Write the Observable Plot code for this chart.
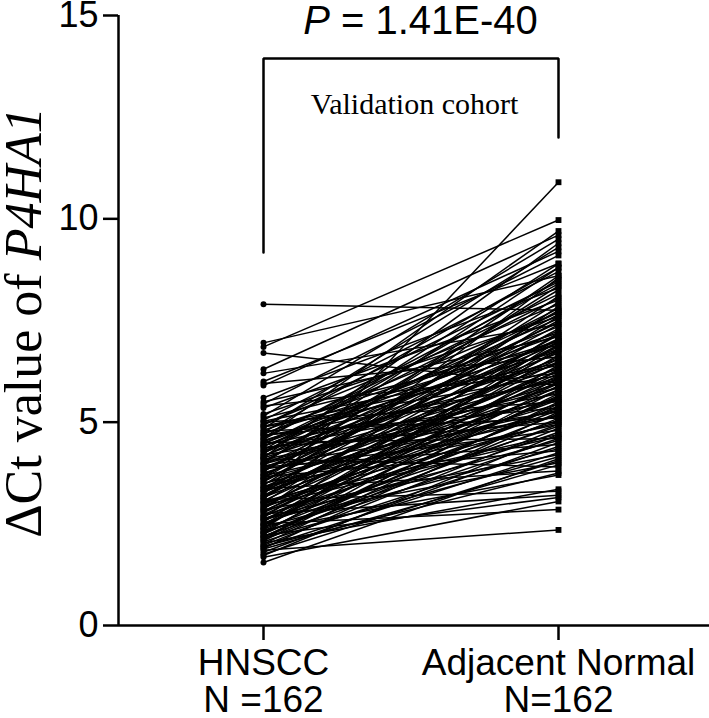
<!DOCTYPE html>
<html>
<head>
<meta charset="utf-8">
<script src="https://cdn.jsdelivr.net/npm/d3@7"></script>
<script src="https://cdn.jsdelivr.net/npm/@observablehq/plot@0.6"></script>
<style>
  html, body { margin: 0; padding: 0; background: white; }
</style>
</head>
<body>
<div id="chart"></div>
<script>
const categories = ["HNSCC", "Adjacent Normal"];
const xTickLabels = ["HNSCC\nN =162", "Adjacent Normal\nN=162"];
const yTicks = [0, 5, 10, 15];
const titleText = "P = 1.41E-40";
const cohortText = "Validation cohort";
const yLabelText = "\u0394Ct value of P4HA1";

// ΔCt values, paired by index (tumour vs adjacent normal)
const hnscc = [
  7.9, 6.95, 6.85, 6.7, 6.3, 6.2, 6.0, 5.95, 5.9, 5.6,
  5.5, 5.45, 5.4, 5.35, 5.2, 5.15, 5.1, 5.05, 5.0, 4.95,
  4.93, 4.9, 4.85, 4.8, 4.78, 4.75, 4.7, 4.66, 4.62, 4.6,
  4.55, 4.52, 4.5, 4.46, 4.42, 4.4, 4.35, 4.32, 4.3, 4.25,
  4.22, 4.2, 4.15, 4.12, 4.1, 4.05, 4.02, 4.0, 3.97, 3.95,
  3.22, 3.88, 3.85, 3.8, 3.78, 3.75, 3.72, 3.7, 3.66, 3.63,
  3.6, 3.58, 3.55, 3.5, 3.48, 3.45, 3.42, 3.4, 3.36, 3.33,
  3.3, 3.28, 3.25, 3.9, 3.2, 3.16, 3.13, 3.1, 3.07, 3.05,
  3.02, 3.0, 2.97, 2.95, 2.92, 2.9, 2.86, 2.84, 2.8, 2.78,
  2.75, 2.72, 2.7, 2.66, 2.63, 2.6, 2.58, 2.55, 2.52, 2.5,
  2.47, 2.45, 2.42, 2.4, 2.37, 2.35, 2.32, 2.3, 2.27, 2.25,
  2.22, 2.2, 2.17, 2.15, 2.12, 2.1, 2.06, 2.03, 2.0, 1.97,
  1.93, 1.9, 1.85, 1.8, 1.75, 1.68, 1.55, 4.88, 4.68, 4.58,
  4.48, 4.38, 4.28, 4.18, 4.08, 3.98, 3.83, 3.68, 3.53, 3.38,
  3.18, 3.03, 2.88, 2.68, 2.48, 2.28, 2.08, 1.95, 1.72, 5.02,
  4.73, 4.43, 4.13, 3.92, 3.62, 3.32, 3.12, 2.82, 2.62, 2.38,
  2.18, 1.88
];
const normal = [
  7.75, 8.6, 9.97, 5.9, 9.6, 7.4, 8.9, 6.6, 9.2, 8.3,
  7.1, 9.1, 6.2, 8.0, 7.6, 9.5, 6.9, 8.7, 5.5, 7.9,
  8.45, 6.4, 9.3, 7.2, 5.1, 8.8, 7.7, 6.0, 8.15, 9.7,
  6.75, 7.35, 4.6, 8.05, 6.95, 7.55, 5.7, 8.5, 6.3, 7.0,
  8.9, 5.25, 7.8, 6.55, 3.9, 7.45, 8.25, 6.1, 5.85, 7.25,
  10.9, 6.7, 4.8, 7.65, 8.35, 5.95, 6.45, 7.05, 4.3, 8.6,
  5.6, 6.85, 7.5, 5.15, 6.25, 7.95, 4.95, 6.6, 3.8, 7.3,
  5.45, 6.05, 8.1, 4.45, 6.9, 5.75, 7.15, 3.3, 6.35, 5.0,
  7.6, 5.35, 6.2, 4.65, 6.75, 5.55, 7.85, 4.2, 6.5, 5.8,
  3.2, 6.15, 5.05, 7.2, 4.55, 6.0, 5.3, 6.8, 4.9, 2.85,
  5.65, 6.3, 4.35, 7.0, 5.2, 3.7, 5.9, 4.75, 6.4, 5.4,
  3.15, 4.6, 5.7, 4.15, 6.1, 5.1, 4.4, 3.35, 5.5, 4.85,
  4.25, 5.25, 2.35, 4.5, 4.05, 3.05, 4.1, 6.15, 5.35, 8.4,
  7.15, 5.0, 7.7, 6.8, 5.55, 8.8, 6.95, 5.3, 7.4, 5.85,
  6.55, 4.7, 7.05, 5.6, 6.65, 4.95, 5.8, 3.75, 4.7, 6.45,
  7.0, 6.05, 9.4, 5.15, 7.75, 6.25, 8.55, 5.95, 4.0, 6.9,
  5.45, 3.95
];

const pairs = hnscc.map((h, i) => ({h, n: normal[i]}));

// annotation anchor positions (data coordinates)
const X_LEFT_EDGE = 1 - 145 / 295;
const bracket = [[1, 9.17], [1, 13.94], [2, 13.94], [2, 12.0]];

const sans = "'Liberation Sans', Arial, sans-serif";
const serif = "'Liberation Serif', 'Times New Roman', serif";

const svg = Plot.plot({
  width: 709,
  height: 718,
  marginLeft: 118,
  marginRight: 0,
  marginTop: 15,
  marginBottom: 93,
  style: {fontFamily: sans, background: "white", color: "black", overflow: "visible"},
  x: {type: "linear", domain: [1, 2], range: [263, 558]},
  y: {domain: [0, 15], range: [625, 15]},
  marks: [
    Plot.link(pairs, {x1: () => 1, y1: "h", x2: () => 2, y2: "n", stroke: "black", strokeWidth: 1.5}),
    Plot.dot(pairs, {x: () => 1, y: "h", r: 3, fill: "black", stroke: null}),
    Plot.dot(pairs, {x: () => 2, y: "n", symbol: "square", r: 3.3, fill: "black", stroke: null}),
    Plot.ruleY([0], {stroke: "black", strokeWidth: 2.5}),
    Plot.ruleX([X_LEFT_EDGE], {y1: 0, y2: 15, stroke: "black", strokeWidth: 2.5}),
    Plot.axisY({ticks: yTicks, tickSize: 15, tickPadding: 5, fontSize: 36, strokeWidth: 2.5, label: null, fontFamily: sans}),
    Plot.axisX({ticks: [1, 2], tickFormat: (d) => xTickLabels[d - 1], tickSize: 15, tickPadding: 8,
      fontSize: 37, lineHeight: 1.0, strokeWidth: 2.5, label: null, fontFamily: sans}),
    Plot.line(bracket, {x: (d) => d[0], y: (d) => d[1], stroke: "black", strokeWidth: 2.5, strokeLinejoin: "miter", curve: "linear"}),
    Plot.text([titleText], {x: () => 1.532, y: () => 14.85, text: (d) => d, fontSize: 40, fontFamily: sans, fill: "black"}),
    Plot.text([cohortText], {x: () => 1.512, y: () => 12.81, text: (d) => d, fontSize: 30, fontFamily: serif, fill: "black"}),
    Plot.text([yLabelText], {x: () => 0.19, y: () => 7.45, text: (d) => d, rotate: -90, fontSize: 52, fontFamily: serif, fill: "black"})
  ]
});

svg.querySelectorAll("text").forEach((t) => {
  if (t.textContent === titleText) {
    t.innerHTML = '<tspan font-style="italic">P</tspan> = 1.41E-40';
  } else if (t.textContent === yLabelText) {
    t.innerHTML = '\u0394Ct value of <tspan font-style="italic">P4HA1</tspan>';
  }
});

document.getElementById("chart").appendChild(svg);
</script>
</body>
</html>
